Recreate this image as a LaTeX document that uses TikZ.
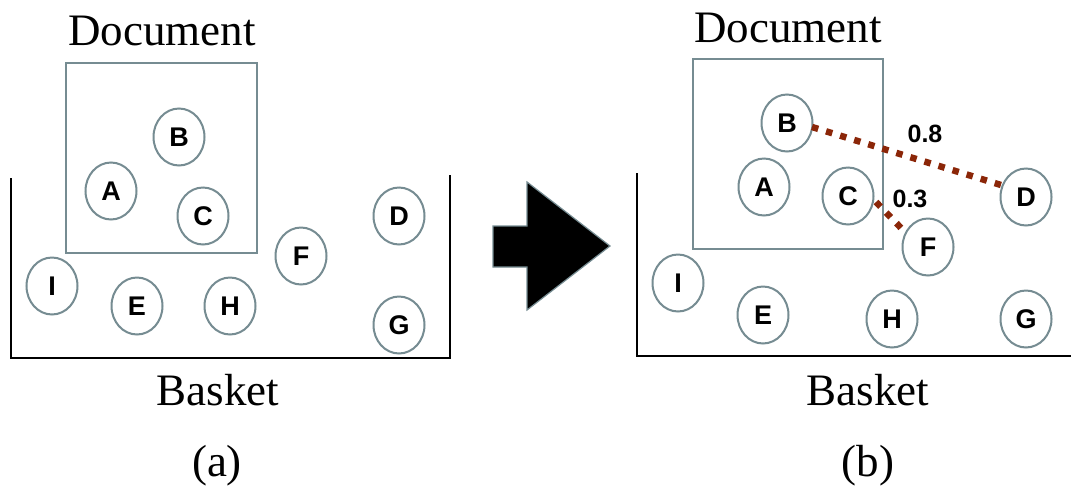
\documentclass[tikz,border=0pt]{standalone}
\usepackage{fontspec}
\setmainfont{Liberation Serif}
\newfontfamily\lsans{Liberation Sans}
\usetikzlibrary{shapes.geometric}
\definecolor{ringc}{RGB}{118,140,146}
\definecolor{linkc}{RGB}{139,38,8}
\begin{document}
\begin{tikzpicture}[x=1pt,y=-1pt,
  item/.style={draw=ringc,line width=2pt,ellipse,inner sep=0pt,minimum width=51pt,minimum height=57pt,font=\lsans\bfseries\fontsize{27}{27}\selectfont},
  docbox/.style={draw=ringc,line width=2.2pt},
  basket/.style={draw=black,line width=2.5pt},
  caption/.style={anchor=base,inner sep=0pt,font=\fontsize{45}{45}\selectfont},
  weight/.style={inner sep=0pt,font=\lsans\bfseries\fontsize{25}{25}\selectfont},
  link/.style={draw=linkc,line width=6.5pt,dash pattern=on 6.5pt off 8.2pt}
]
\useasboundingbox (0,0) rectangle (1071,491);
\fill[white] (0,0) rectangle (1071,491);

% ---------- panel (a) ----------
\draw[docbox] (66,63) rectangle (257,253);
\draw[basket] (11,178) -- (11,358) -- (450,358) -- (450,175);
\node[caption] (doca) at (162,45) {Document};
\node[caption] (baska) at (218,405) {Basket};
\node[caption] (capa) at (217,476) {(a)};
\node[item] (aB) at (179,137) {B};
\node[item] (aA) at (111,191) {A};
\node[item] (aC) at (203,216) {C};
\node[item] (aD) at (399,216) {D};
\node[item] (aF) at (301,256) {F};
\node[item] (aI) at (52,286) {I};
\node[item] (aE) at (137,306) {E};
\node[item] (aH) at (230,306) {H};
\node[item] (aG) at (399,325) {G};

% ---------- arrow ----------
\draw[draw=ringc,fill=black,line width=1.2pt,line join=miter]
  (493,226) -- (527,226) -- (527,182) -- (610,246) -- (527,310) -- (527,267) -- (493,267) -- cycle;

% ---------- panel (b) ----------
\draw[docbox] (693,59) rectangle (883,249);
\draw[basket] (637,173) -- (637,356) -- (1071,356);
\node[caption] (docb) at (788,42) {Document};
\node[caption] (baskb) at (868,405) {Basket};
\node[caption] (capb) at (868,476) {(b)};
\node[item] (bB) at (787,123) {B};
\node[item] (bA) at (764,187) {A};
\node[item] (bC) at (848,196) {C};
\node[item] (bD) at (1026,197) {D};
\node[item] (bF) at (928,247) {F};
\node[item] (bI) at (678,283) {I};
\node[item] (bE) at (763,315) {E};
\node[item] (bH) at (892,319) {H};
\node[item] (bG) at (1026,319) {G};

\path (bB.center) ++(25,4) coordinate (bd1);
\path (bD.center) ++(-25,-12) coordinate (bd2);
\path (bC.center) ++(28,6) coordinate (cf1);
\path (bF.center) ++(-26,-18) coordinate (cf2);
\draw[link] (bd1) -- (bd2);
\draw[link] (cf1) -- (cf2);
\node[weight] (w8) at (925,134) {0.8};
\node[weight] (w3) at (910,199) {0.3};
\end{tikzpicture}
\end{document}
